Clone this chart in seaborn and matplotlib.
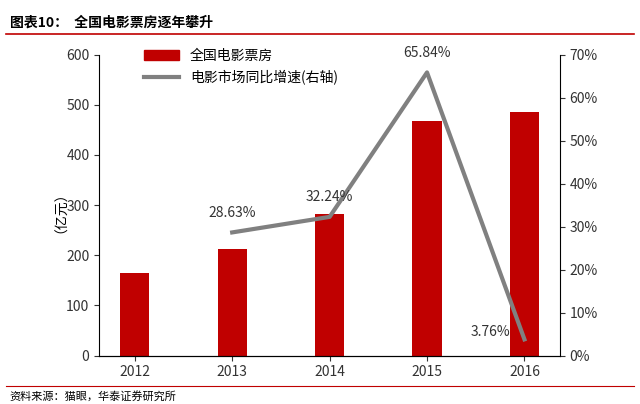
import matplotlib
matplotlib.use('Agg')
import matplotlib.pyplot as plt
import seaborn as sns
import pandas as pd
from matplotlib.lines import Line2D
from matplotlib.patches import Patch

plt.rcParams['font.family'] = 'Noto Sans CJK SC'

years = ['2012', '2013', '2014', '2015', '2016']
box_office = [165, 213, 282, 468, 485]
growth_years = ['2013', '2014', '2015', '2016']
growth = [28.63, 32.24, 65.84, 3.76]

df = pd.DataFrame({'year': years, 'box': box_office})

fig = plt.figure(figsize=(6.4, 4.04), dpi=100)
ax = fig.add_axes([0.155, 0.12, 0.72, 0.745])
sns.barplot(data=df, x='year', y='box', color='#c00000', width=0.3, ax=ax, saturation=1)
ax.set_ylim(0, 600)
ax.set_yticks(range(0, 601, 100))
ax.set_xlabel('')
ax.set_ylabel('（亿元）', fontsize=10)
ax2 = ax.twinx()
xs = [years.index(y) for y in growth_years]
sns.lineplot(x=xs, y=growth, color='#808080', linewidth=3, ax=ax2)
ax2.set_ylim(0, 70)
ax2.set_yticks(range(0, 71, 10))
ax2.set_yticklabels([f'{v}%' for v in range(0, 71, 10)])
offsets = [(0, 3), (0, 3), (0, 3), (-3.5, 0)]
for x, v, (dx, dy) in zip(xs, growth, offsets):
    ax2.text(x + dx * 0.1, v + dy, f'{v:.2f}%', ha='center', va='bottom', fontsize=10, color='#333333')

for a in (ax, ax2):
    for s in ['top']:
        a.spines[s].set_visible(False)
    a.tick_params(labelsize=10, colors='#333333')
ax.spines['right'].set_visible(False)
ax2.spines['left'].set_visible(False)

handles = [Patch(color='#c00000'), Line2D([], [], color='#808080', linewidth=3)]
ax.legend(handles, ['全国电影票房', '电影市场同比增速(右轴)'], loc='upper left',
          bbox_to_anchor=(0.07, 1.06), frameon=False, fontsize=10, handlelength=2.5)

fig.text(0.015, 0.935, '图表10：  全国电影票房逐年攀升', fontsize=10, weight='bold')
fig.add_artist(Line2D([0.01, 0.99], [0.915, 0.915], color='#c00000', linewidth=1.2))
fig.add_artist(Line2D([0.01, 0.99], [0.045, 0.045], color='#c00000', linewidth=0.8))
fig.text(0.015, 0.01, '资料来源：猫眼，华泰证券研究所', fontsize=8)

fig.savefig('out.png', dpi=100)
